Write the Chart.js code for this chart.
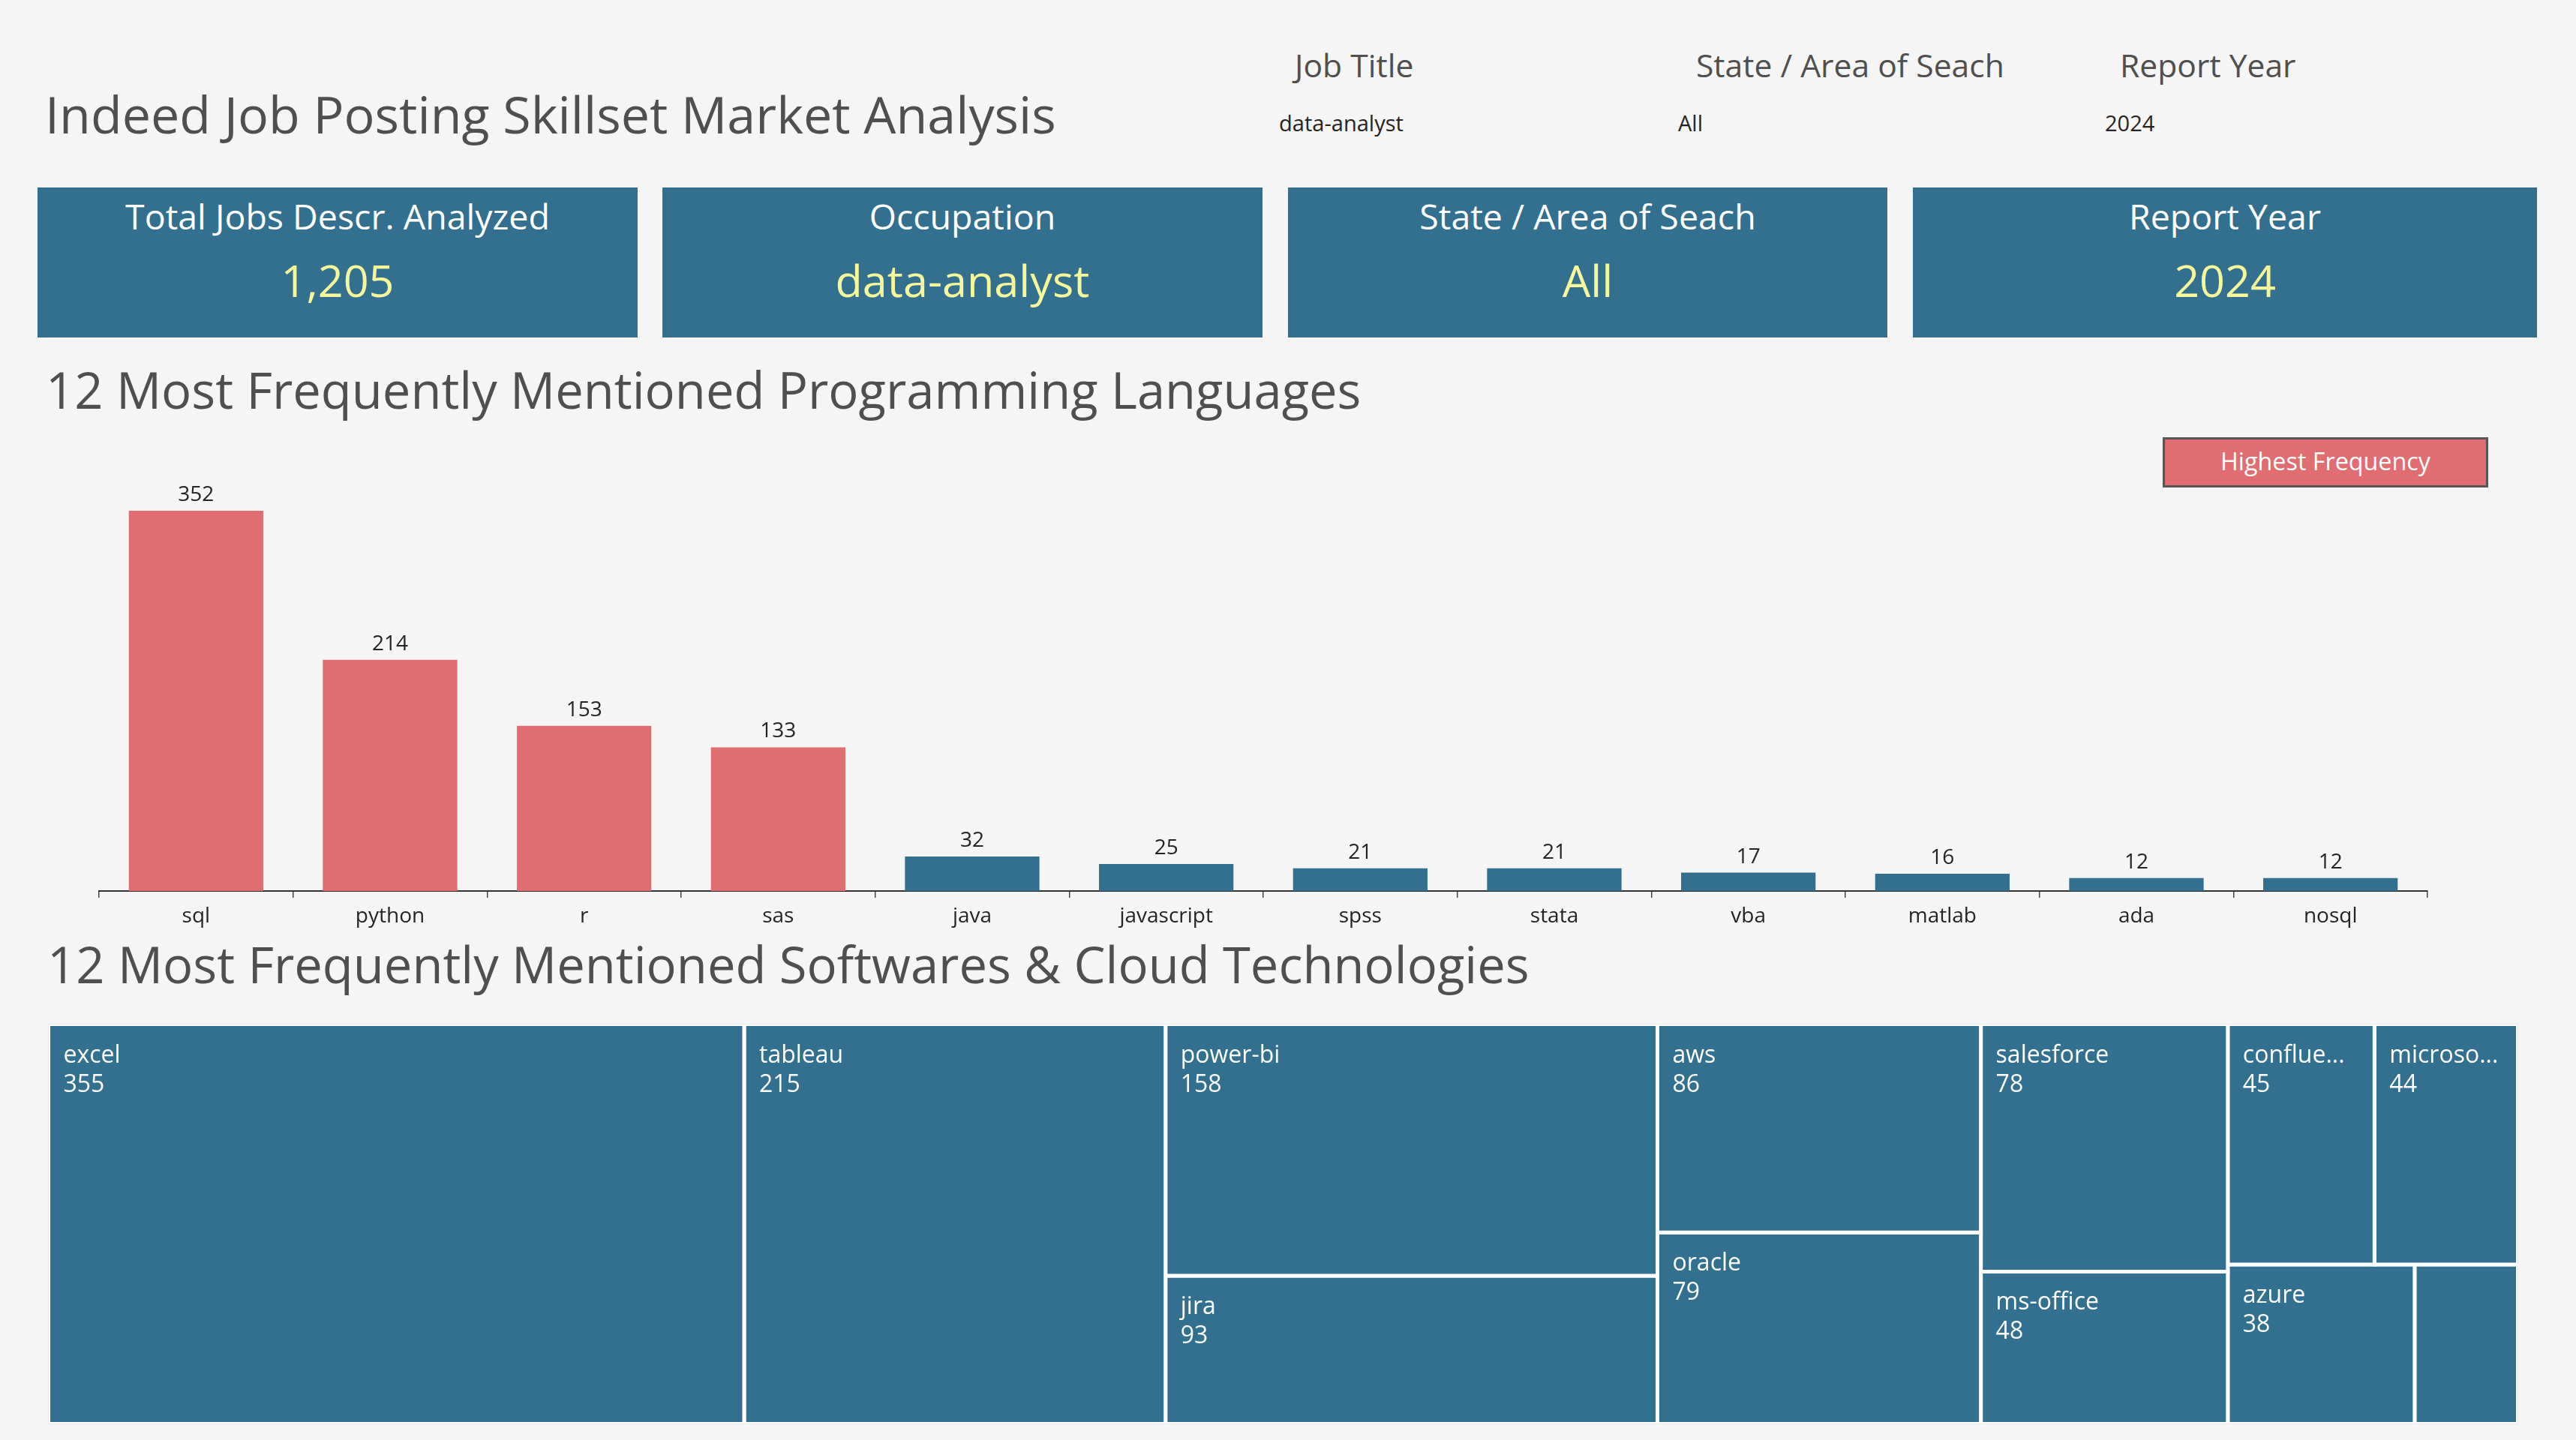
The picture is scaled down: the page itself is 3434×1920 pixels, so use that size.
<!DOCTYPE html>
<html><head><meta charset="utf-8">
<script src="https://cdn.jsdelivr.net/npm/chart.js@4.4.1/dist/chart.umd.min.js"></script>
<style>
html,body{margin:0;padding:0;background:#f5f5f5;}
#page{position:relative;width:3434px;height:1920px;overflow:hidden;background:#f5f5f5;font-family:'Open Sans',sans-serif;}
.t{position:absolute;white-space:nowrap;line-height:1;}
.card{position:absolute;background:#336f8f;}
#legendBox{position:absolute;background:#e06d71;border:3px solid #555;box-sizing:border-box;}
canvas{position:absolute;left:0;}
</style></head>
<body><div id="page">
<canvas id="bar" width="3434" height="700" style="top:560px"></canvas>
<canvas id="tm" width="3434" height="580" style="top:1340px"></canvas>
</div>
<script>
// ---------------- DATA ----------------
const pageTitle = 'Indeed Job Posting Skillset Market Analysis';
const filterLabels = ['Job Title', 'State / Area of Seach', 'Report Year'];
const filterValues = ['data-analyst', 'All', '2024'];
const kpiLabels = ['Total Jobs Descr. Analyzed', 'Occupation', 'State / Area of Seach', 'Report Year'];
const kpiValues = ['1,205', 'data-analyst', 'All', '2024'];
const langTitle = '12 Most Frequently Mentioned Programming Languages';
const langLabels = ['sql', 'python', 'r', 'sas', 'java', 'javascript', 'spss', 'stata', 'vba', 'matlab', 'ada', 'nosql'];
const langCounts = [352, 214, 153, 133, 32, 25, 21, 21, 17, 16, 12, 12];
const highestFrequency = ['sql', 'python', 'r', 'sas'];
const legendLabel = 'Highest Frequency';
const swTitle = '12 Most Frequently Mentioned Softwares & Cloud Technologies';
const swLabels = ['excel', 'tableau', 'power-bi', 'jira', 'aws', 'oracle', 'salesforce', 'ms-office', 'confluence', 'microsoft-access', 'azure', 'snowflake'];
const swCounts = [355, 215, 158, 93, 86, 79, 78, 48, 45, 44, 38, 21];

// ---------------- STYLE ----------------
const FONT = "'Open Sans', sans-serif";
const BLUE = '#336f8f', RED = '#e06d71', YELLOW = '#f5f79a', GREY = '#4f4f4f', DARK = '#252423';
Chart.defaults.font.family = FONT;

const page = document.getElementById('page');
const mctx = document.createElement('canvas').getContext('2d');
function fitSize(text, target, weight) {
  mctx.font = `${weight || 400} 100px ${FONT}`;
  return 100 * target / mctx.measureText(text).width;
}
function addText(text, o) {
  const d = document.createElement('div');
  d.className = 't';
  d.textContent = text;
  d.style.fontSize = o.size + 'px';
  d.style.fontWeight = o.weight || 400;
  d.style.color = o.color;
  d.style.top = (o.capC - 0.531 * o.size) + 'px';
  d.style.left = o.x + 'px';
  if (o.width) { d.style.width = o.width + 'px'; d.style.textAlign = 'center'; }
  page.appendChild(d);
}

// Header
const titleSize = fitSize(pageTitle, 1348);
addText(pageTitle, {x: 60, capC: 154, size: titleSize, color: GREY});
const filterLabelSize = fitSize(filterLabels[1], 411);
const filterLabelX = [1726, 2261, 2826];
const filterValueX = [1705, 2237, 2806];
const filterValueSize = fitSize(filterValues[0], 166);
filterLabels.forEach((t, i) => addText(t, {x: filterLabelX[i], capC: 88, size: filterLabelSize, color: GREY}));
filterValues.forEach((t, i) => addText(t, {x: filterValueX[i], capC: 165, size: filterValueSize, color: DARK}));

// KPI cards
const kpiTitleSize = fitSize(kpiLabels[0], 566);
const kpiValueSize = fitSize(kpiValues[1], 339);
const cardLeft = [50, 883, 1717, 2550];
const cardWidth = [800, 800, 799, 832];
kpiLabels.forEach((t, i) => {
  const left = cardLeft[i], w = cardWidth[i];
  const c = document.createElement('div');
  c.className = 'card';
  c.style.left = left + 'px'; c.style.top = '250px'; c.style.width = w + 'px'; c.style.height = '200px';
  page.appendChild(c);
  addText(t, {x: left, width: w, capC: 290, size: kpiTitleSize, color: '#ffffff'});
  addText(kpiValues[i], {x: left, width: w, capC: 376, size: kpiValueSize, color: YELLOW});
});

// Section titles
const secSize = fitSize(swTitle, 1976);
addText(langTitle, {x: 61, capC: 522, size: secSize, color: GREY});
addText(swTitle, {x: 63, capC: 1288, size: secSize, color: GREY});

// Legend box
const lb = document.createElement('div');
lb.id = 'legendBox';
lb.style.left = '2883px'; lb.style.top = '583px'; lb.style.width = '434px'; lb.style.height = '67px';
page.appendChild(lb);
addText(legendLabel, {x: 2883, width: 434, capC: 615, size: fitSize(legendLabel, 280), color: '#ffffff'});

// ---------------- BAR CHART ----------------
const barValueLabels = {
  id: 'barValueLabels',
  afterDatasetsDraw(chart) {
    const ctx = chart.ctx, meta = chart.getDatasetMeta(0), data = chart.data.datasets[0].data;
    ctx.save();
    ctx.font = `28px ${FONT}`;
    ctx.fillStyle = DARK;
    ctx.textAlign = 'center';
    ctx.textBaseline = 'alphabetic';
    meta.data.forEach((el, i) => ctx.fillText(String(data[i]), el.x, el.y - 13));
    ctx.restore();
  }
};
new Chart(document.getElementById('bar'), {
  type: 'bar',
  data: {
    labels: langLabels,
    datasets: [{
      data: langCounts,
      backgroundColor: langLabels.map(l => highestFrequency.includes(l) ? RED : BLUE),
      categoryPercentage: 1,
      barPercentage: 0.693,
      borderWidth: 0
    }]
  },
  options: {
    responsive: false,
    animation: false,
    layout: {padding: {left: 132, right: 198, top: 52, bottom: 0}},
    plugins: {legend: {display: false}, tooltip: {enabled: false}},
    scales: {
      y: {display: false, min: 0, max: 400},
      x: {
        grid: {display: true, drawOnChartArea: false, drawTicks: true, tickLength: 9, color: '#444', lineWidth: 1.5, offset: true},
        border: {display: true, color: '#333', width: 2},
        ticks: {font: {size: 28}, color: DARK, padding: 8},
        afterFit(s) { s.height = 72; }
      }
    }
  },
  plugins: [barValueLabels]
});

// ---------------- TREEMAP ----------------
const TM_W = 3292, TM_H = 533;
function squarify(values, x0, y0, x1, y1, ratio) {
  const nodes = values.map((v, i) => ({v, i}));
  let value = values.reduce((a, b) => a + b, 0);
  const out = [];
  let i0 = 0, i1 = 0;
  const n = nodes.length;
  while (i0 < n) {
    const dx = x1 - x0, dy = y1 - y0;
    let sum = nodes[i1++].v, minV = sum, maxV = sum;
    const alpha = Math.max(dy / dx, dx / dy) / (value * ratio);
    let beta = sum * sum * alpha;
    let minRatio = Math.max(maxV / beta, beta / minV);
    for (; i1 < n; ++i1) {
      const nv = nodes[i1].v;
      sum += nv;
      if (nv < minV) minV = nv;
      if (nv > maxV) maxV = nv;
      beta = sum * sum * alpha;
      const nr = Math.max(maxV / beta, beta / minV);
      if (nr > minRatio) { sum -= nv; break; }
      minRatio = nr;
    }
    const row = nodes.slice(i0, i1);
    if (dx < dy) {
      const h = dy * sum / value; let xx = x0;
      row.forEach(nd => { const w = dx * nd.v / sum; out[nd.i] = {x0: xx, x1: xx + w, y0: y0, y1: y0 + h}; xx += w; });
      y0 += h;
    } else {
      const w = dx * sum / value; let yy = y0;
      row.forEach(nd => { const h = dy * nd.v / sum; out[nd.i] = {x0: x0, x1: x0 + w, y0: yy, y1: yy + h}; yy += h; });
      x0 += w;
    }
    value -= sum; i0 = i1;
  }
  return out;
}
const cells = squarify(swCounts, 0, 0, TM_W, TM_H, (1 + Math.sqrt(5)) / 2);

const treemapLabels = {
  id: 'treemapLabels',
  afterDatasetsDraw(chart) {
    const ctx = chart.ctx, xs = chart.scales.x, ys = chart.scales.y;
    ctx.save();
    ctx.font = `32px ${FONT}`;
    ctx.fillStyle = '#ffffff';
    ctx.textAlign = 'left';
    ctx.textBaseline = 'alphabetic';
    cells.forEach((r, i) => {
      const px0 = xs.getPixelForValue(r.x0), px1 = xs.getPixelForValue(r.x1), py0 = ys.getPixelForValue(r.y0);
      const avail = px1 - px0 - 41;
      if (avail < 110) return;
      let name = swLabels[i];
      if (ctx.measureText(name).width > avail) {
        while (name.length > 1 && ctx.measureText(name + '...').width > avail) name = name.slice(0, -1);
        name += '...';
      }
      ctx.fillText(name, px0 + 20, py0 + 51);
      ctx.fillText(String(swCounts[i]), px0 + 20, py0 + 90);
    });
    ctx.restore();
  }
};

new Chart(document.getElementById('tm'), {
  type: 'line',
  data: {
    datasets: cells.map((r, i) => ({
      label: swLabels[i],
      data: [{x: r.x0, y: r.y0}, {x: r.x1, y: r.y0}, {x: r.x1, y: r.y1}, {x: r.x0, y: r.y1}, {x: r.x0, y: r.y0}],
      fill: 'shape',
      backgroundColor: BLUE,
      borderColor: '#ffffff',
      borderWidth: 5,
      borderJoinStyle: 'miter',
      pointRadius: 0,
      tension: 0,
      clip: 0
    }))
  },
  options: {
    responsive: false,
    animation: false,
    layout: {padding: {left: 64.5, right: 77.5, top: 25.5, bottom: 21.5}},
    plugins: {legend: {display: false}, tooltip: {enabled: false}},
    scales: {
      x: {type: 'linear', display: false, min: 0, max: TM_W},
      y: {type: 'linear', display: false, min: 0, max: TM_H, reverse: true}
    }
  },
  plugins: [treemapLabels]
});
</script>
</body></html>
